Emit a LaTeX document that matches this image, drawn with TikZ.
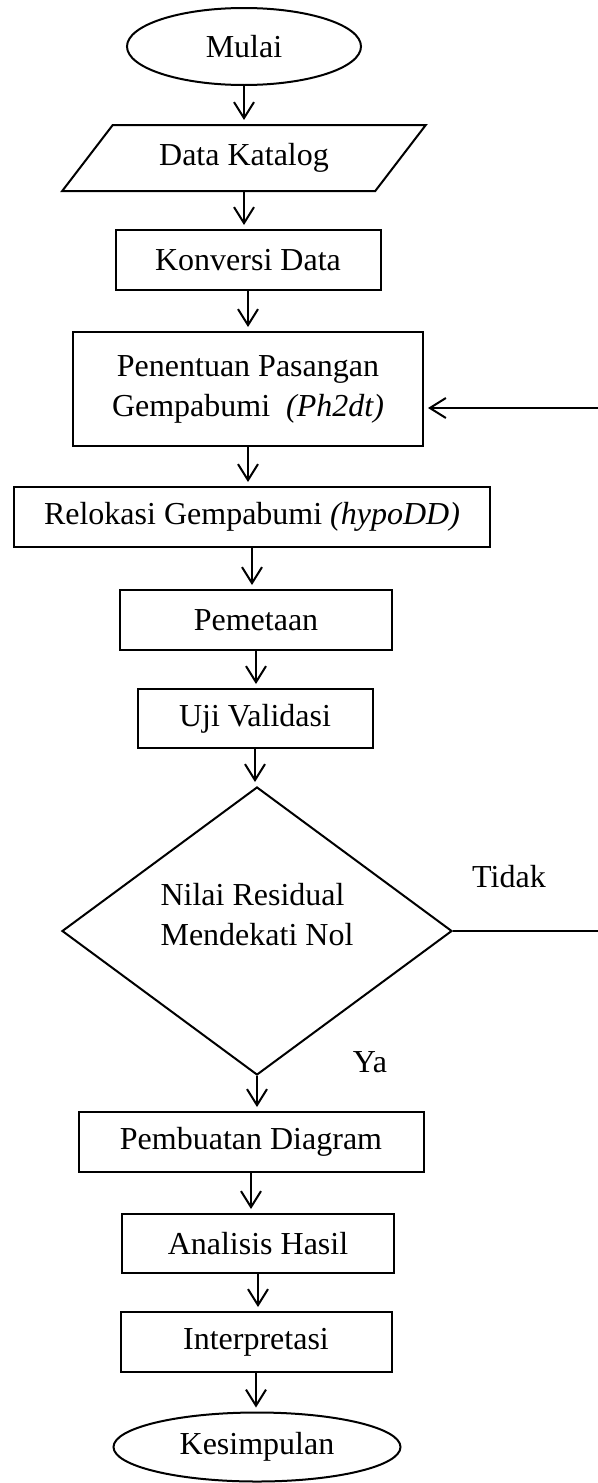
\documentclass[tikz,border=0pt]{standalone}
\usepackage{fontspec}
\setmainfont{Liberation Serif}
\usetikzlibrary{shapes.geometric,arrows.meta}

\begin{document}
\begin{tikzpicture}[x=0.5pt,y=-0.5pt,line width=1pt,
    font=\fontsize{16}{20}\selectfont,
    proc/.style={draw,rectangle,inner sep=0pt,align=center},
    term/.style={draw,ellipse,inner sep=0pt},
    arr/.style={-{Straight Barb[length=8pt,width=10pt]},shorten >=2pt}]
    \useasboundingbox (0,0) rectangle (598,1483);
    % start / input ==========================================
    \node[term,minimum width=117pt,minimum height=38.5pt] (mulai) at (244,46.5) {Mulai};
    \node[draw,trapezium,trapezium left angle=41.7,trapezium right angle=138.3,trapezium stretches=true,
          inner sep=0pt,minimum width=182pt,minimum height=33pt] (katalog) at (244,158) {Data Katalog};
    \node[proc,minimum width=132.5pt,minimum height=30pt] (konversi) at (248,260) {Konversi Data};
    \node[proc,minimum width=175pt,minimum height=57pt] (pasangan) at (248,389) {Penentuan Pasangan\\Gempabumi \ \textit{(Ph2dt)}};
    \node[proc,minimum width=238pt,minimum height=30pt] (relokasi) at (252,517) {Relokasi Gempabumi \textit{(hypoDD)}};
    \node[proc,minimum width=136pt,minimum height=30pt] (pemetaan) at (256,620) {Pemetaan};
    \node[proc,minimum width=117.5pt,minimum height=29.5pt] (validasi) at (255,718.5) {Uji Validasi};
    % decision ===============================================
    \node[draw,diamond,inner sep=0pt,minimum width=195pt,minimum height=144pt] (residual) at (257,931)
        {\raisebox{7pt}[\height][\depth]{\begin{tabular}{@{}l@{}}Nilai Residual\\Mendekati Nol\end{tabular}}};
    \node (tidak) at (509,877) {Tidak};
    \node (ya)    at (370,1062) {Ya};
    % output / end ===========================================
    \node[proc,minimum width=172.5pt,minimum height=30pt] (diagram) at (251,1142) {Pembuatan Diagram};
    \node[proc,minimum width=136pt,minimum height=29.5pt] (analisis) at (258,1243.5) {Analisis Hasil};
    \node[proc,minimum width=135.5pt,minimum height=30pt] (interpretasi) at (256,1342) {Interpretasi};
    \node[term,minimum width=143.5pt,minimum height=34.5pt] (kesimpulan) at (257,1447) {Kesimpulan};
    % flow ===================================================
    \draw[arr] (mulai.south) -- (mulai.south |- katalog.north);
    \draw[arr] (katalog.south) -- (katalog.south |- konversi.north);
    \draw[arr] (konversi.south) -- (konversi.south |- pasangan.north);
    \draw[arr] (pasangan.south) -- (pasangan.south |- relokasi.north);
    \draw[arr] (relokasi.south) -- (relokasi.south |- pemetaan.north);
    \draw[arr] (pemetaan.south) -- (pemetaan.south |- validasi.north);
    \draw[arr] (validasi.south) -- (validasi.south |- residual.north);
    \draw[arr] (residual.south) -- (residual.south |- diagram.north);
    \draw[arr] (diagram.south) -- (diagram.south |- analisis.north);
    \draw[arr] (analisis.south) -- (analisis.south |- interpretasi.north);
    \draw[arr] (interpretasi.south) -- (interpretasi.south |- kesimpulan.north);
    % loop back (Tidak) ======================================
    \coordinate (tidakend)  at (598,931);
    \coordinate (kembali)   at (598,408);
    \draw (residual.east) -- (tidakend);
    \draw[arr] (kembali) -- (kembali -| pasangan.east);
\end{tikzpicture}
\end{document}
